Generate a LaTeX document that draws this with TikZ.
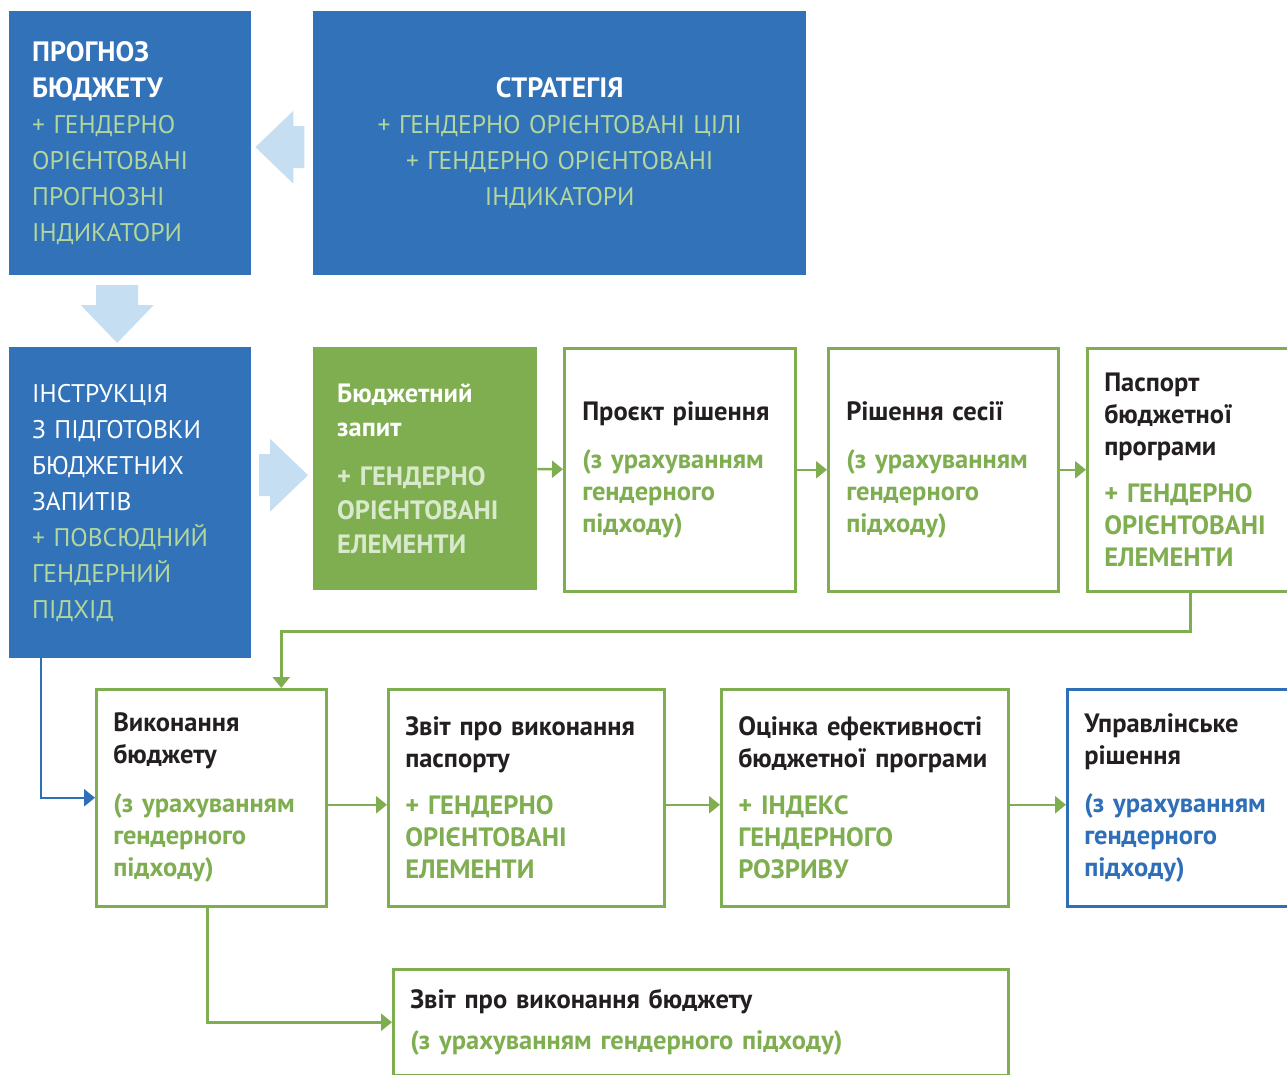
\documentclass[tikz,border=0pt]{standalone}
\usepackage{fontspec}
\setmainfont{PT Sans}
\usepackage{xcolor}
\usepackage{tikz}
\usetikzlibrary{arrows.meta, positioning, calc}
\definecolor{boxblue}{HTML}{3172B9}
\definecolor{paleblue}{HTML}{C5DEF2}
\definecolor{softgreen}{HTML}{B2D69B}
\definecolor{leafgreen}{HTML}{7FAE50}
\definecolor{mistgreen}{HTML}{D8EACB}
\definecolor{inkdark}{HTML}{231F20}
\definecolor{lineblue}{HTML}{2F6FB7}
\newcommand{\boxhead}[1]{{\fontsize{28}{36}\selectfont\textbf{#1}}}
\tikzset{
  bigtxt/.style={font=\fontsize{25.5}{36}\selectfont, align=left},
  smalltxt/.style={font=\fontsize{26.5}{32}\selectfont, align=left},
  bluebox/.style={fill=boxblue, text=white, bigtxt, inner ysep=0pt, anchor=north west},
  stagebox/.style={draw=#1, line width=2.5pt, fill=white, text=inkdark, smalltxt,
                   inner ysep=0pt, anchor=north west},
  stagebox/.default=leafgreen,
  flow/.style={-{Triangle[length=11pt, width=17pt]}, line width=2.5pt, color=leafgreen},
  fat/.style={fill=paleblue},
}

\begin{document}
\begin{tikzpicture}[x=1pt, y=-1pt]
  \useasboundingbox (0,0) rectangle (1287,1075);
  \clip (0,0) rectangle (1287,1075);
  % Row 1: forecast and strategy
  \node[bluebox, minimum width=242pt, minimum height=264pt, inner xsep=23pt, text width=196pt] (prog) at (9,11)
    {\boxhead{ПРОГНОЗ}\\\boxhead{БЮДЖЕТУ}\\\color{softgreen}+ ГЕНДЕРНО\\ОРІЄНТОВАНІ\\ПРОГНОЗНІ\\ІНДИКАТОРИ};
  \node[bluebox, align=center, minimum width=493pt, minimum height=264pt, inner xsep=16pt, text width=461pt] (strat) at (313,11)
    {\boxhead{СТРАТЕГІЯ}\\\color{softgreen}+ ГЕНДЕРНО ОРІЄНТОВАНІ ЦІЛІ\\+ ГЕНДЕРНО ОРІЄНТОВАНІ\\ІНДИКАТОРИ};
  % Row 2: instruction, request and the decisions
  \node[bluebox, minimum width=242pt, minimum height=311pt, inner xsep=23pt, text width=196pt] (instr) at (9,347)
    {ІНСТРУКЦІЯ\\З ПІДГОТОВКИ\\БЮДЖЕТНИХ\\ЗАПИТІВ\\\color{softgreen}+ ПОВСЮДНИЙ\\ГЕНДЕРНИЙ\\ПІДХІД};
  \node[fill=leafgreen, text=white, font=\fontsize{26.5}{34}\selectfont, align=left, anchor=north west,
        minimum width=224pt, minimum height=243pt, inner xsep=24pt, inner ysep=0pt, text width=176pt] (req) at (313,347)
    {\textbf{Бюджетний}\\\textbf{запит}\\[15pt]\color{mistgreen}\textbf{+ ГЕНДЕРНО}\\\textbf{ОРІЄНТОВАНІ}\\\textbf{ЕЛЕМЕНТИ}};
  \node[stagebox, minimum width=231pt, minimum height=243pt, inner xsep=18pt, text width=195pt] (proj) at (563,347)
    {\textbf{Проєкт рішення}\\[16pt]\color{leafgreen}\textbf{(з урахуванням}\\\textbf{гендерного}\\\textbf{підходу)}};
  \node[stagebox, minimum width=230pt, minimum height=243pt, inner xsep=18pt, text width=194pt] (sess) at (827,347)
    {\textbf{Рішення сесії}\\[16pt]\color{leafgreen}\textbf{(з урахуванням}\\\textbf{гендерного}\\\textbf{підходу)}};
  \node[stagebox, minimum width=230pt, minimum height=243pt, inner xsep=17pt, text width=196pt] (pasp) at (1086,347)
    {\textbf{Паспорт}\\\textbf{бюджетної}\\\textbf{програми}\\[15pt]\color{leafgreen}\textbf{+ ГЕНДЕРНО}\\\textbf{ОРІЄНТОВАНІ}\\\textbf{ЕЛЕМЕНТИ}};
  % Row 3: execution and reporting
  \node[stagebox, minimum width=230pt, minimum height=217pt, inner xsep=17pt, text width=196pt] (vyk) at (95,688)
    {\textbf{Виконання}\\\textbf{бюджету}\\[17pt]\color{leafgreen}\textbf{(з урахуванням}\\\textbf{гендерного}\\\textbf{підходу)}};
  \node[stagebox, minimum width=276pt, minimum height=217pt, inner xsep=17pt, text width=242pt] (zvit) at (387,688)
    {\textbf{Звіт про виконання}\\\textbf{паспорту}\\[15pt]\color{leafgreen}\textbf{+ ГЕНДЕРНО}\\\textbf{ОРІЄНТОВАНІ}\\\textbf{ЕЛЕМЕНТИ}};
  \node[stagebox, minimum width=287pt, minimum height=217pt, inner xsep=17pt, text width=253pt] (ocin) at (720,688)
    {\textbf{Оцінка ефективності}\\\textbf{бюджетної програми}\\[15pt]\color{leafgreen}\textbf{+ ІНДЕКС}\\\textbf{ГЕНДЕРНОГО}\\\textbf{РОЗРИВУ}};
  \node[stagebox=lineblue, minimum width=230pt, minimum height=217pt, inner xsep=17pt, text width=196pt] (upr) at (1066,688)
    {\textbf{Управлінське}\\\textbf{рішення}\\[16pt]\color{lineblue}\textbf{(з урахуванням}\\\textbf{гендерного}\\\textbf{підходу)}};
  \node[stagebox, minimum width=615pt, minimum height=106pt, inner xsep=17pt, text width=581pt] (rep) at (392,968)
    {\textbf{Звіт про виконання бюджету}\\[9pt]\color{leafgreen}\textbf{(з урахуванням гендерного підходу)}};
  % wide pale arrows
  \coordinate (t1) at ($(prog.east)+(4,4)$);
  \coordinate (t2) at ($(instr.north)+(-13,-4)$);
  \coordinate (t3) at ($(req.west)+(-5,6.5)$);
  \fill[fat] (t1) -- ++(38,-36.5) -- ++(0,15.5) -- ++(11,0) -- ++(0,42) -- ++(-11,0) -- ++(0,15.5) -- cycle;
  \fill[fat] (t2) -- ++(-36.5,-38) -- ++(15.5,0) -- ++(0,-20) -- ++(42,0) -- ++(0,20) -- ++(15.5,0) -- cycle;
  \fill[fat] (t3) -- ++(-38,-36.5) -- ++(0,15.5) -- ++(-11,0) -- ++(0,42) -- ++(11,0) -- ++(0,15.5) -- cycle;
  % connectors
  \draw[flow] (req) -- (proj);
  \draw[flow] (proj) -- (sess);
  \draw[flow] (sess) -- (pasp);
  \draw[flow] ([xshift=-12pt]pasp.south) -- ++(0,39) -| ([xshift=70pt]vyk.north);
  \draw[flow, color=lineblue] ([xshift=32pt]instr.south west) |- (vyk.west);
  \draw[flow] ([yshift=-7pt]vyk.east) -- ([yshift=-7pt]zvit.west);
  \draw[flow] ([yshift=-7pt]zvit.east) -- ([yshift=-7pt]ocin.west);
  \draw[flow] ([yshift=-7pt]ocin.east) -- ([yshift=-7pt]upr.west);
  \draw[flow] ([xshift=-4pt]vyk.south) |- (rep.west);
\end{tikzpicture}
\end{document}
